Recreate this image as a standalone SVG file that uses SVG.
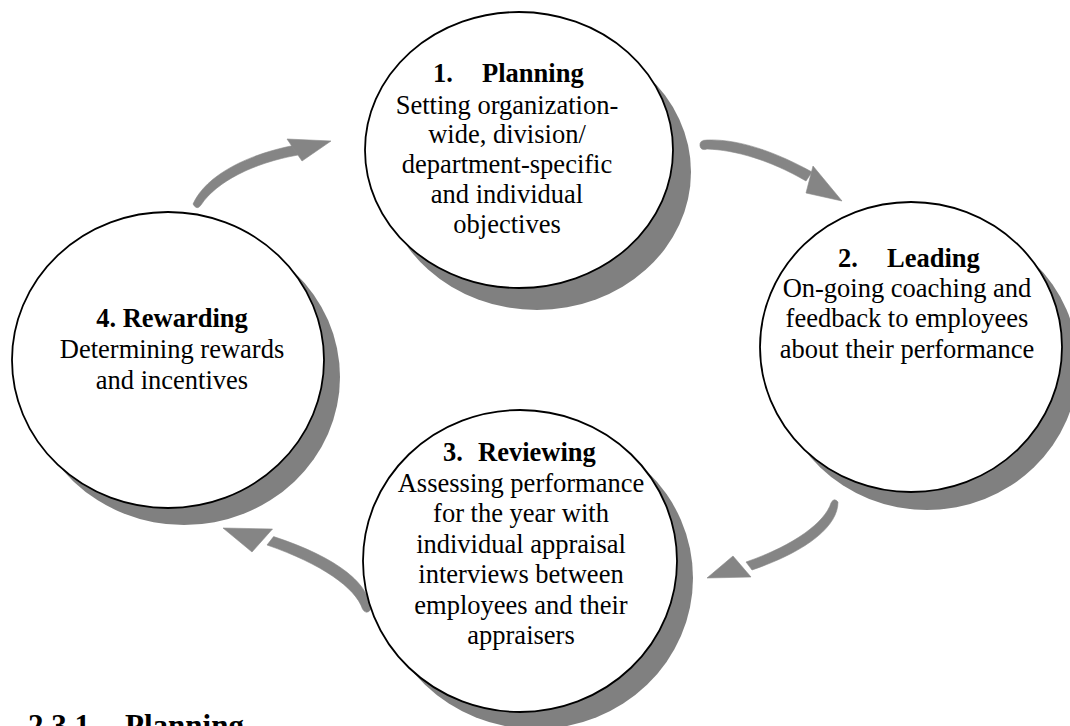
<svg xmlns="http://www.w3.org/2000/svg" width="1070" height="726" viewBox="0 0 1070 726">
<style>
.sh{fill:#808080;stroke:none}
.c{fill:#ffffff;stroke:#000000;stroke-width:1.8}
.t{font-family:"Liberation Serif","Times New Roman",serif;font-size:26.5px;fill:#000}
.m{text-anchor:middle}
.b{font-weight:bold}
.ar{fill:#858585;stroke:#8a8a8a;stroke-width:0.6}
</style>
<rect width="1070" height="726" fill="#ffffff"/>
<g id="connectors">
<g id="arrow-4-1">
<path class="ar" d="M193,204 C206,175 248,154 296,145 L298,155 C253,163 216,182 201,205 Q197,211 193,204 Z"/>
<path class="ar" d="M287,139 L331,141 L302,161 Z"/>
</g>
<g id="arrow-1-2">
<path class="ar" d="M700,146 Q699,140 707,140 C730,139 765,146 812,172 L806,181 C770,160 735,150 707,149 Q701,151 700,146 Z"/>
<path class="ar" d="M813,166 L842,201 L806,193 Z"/>
</g>
<g id="arrow-2-3">
<path class="ar" d="M831,503 Q834,497 838,502 C838,525 810,550 752,570 L746,562 C795,545 825,522 831,503 Z"/>
<path class="ar" d="M733,556 L707,578 L751,577 Z"/>
</g>
<g id="arrow-3-4">
<path class="ar" d="M362.5,609 Q366,615 370.4,610 C370.4,585 339,558 273.6,536.6 L267,545 C322,564 355.7,588 362.5,609 Z"/>
<path class="ar" d="M252,552 L223,528 L272.5,529 Z"/>
</g>
</g>
<g id="node-1">
<ellipse class="sh" cx="537" cy="172" rx="154" ry="138"/>
<ellipse class="c" cx="519" cy="150" rx="154" ry="138"/>
<text class="t b" x="433" y="82">1.</text>
<text class="t b" x="482" y="82">Planning</text>
<text class="t m" x="507" y="114">Setting organization-</text>
<text class="t m" x="507" y="143">wide, division/</text>
<text class="t m" x="507" y="173">department-specific</text>
<text class="t m" x="507" y="203">and individual</text>
<text class="t m" x="507" y="233">objectives</text>
</g>
<g id="node-2">
<ellipse class="sh" cx="927" cy="365" rx="151" ry="145"/>
<ellipse class="c" cx="911" cy="347" rx="151" ry="145"/>
<text class="t b" x="838" y="267">2.</text>
<text class="t b" x="887" y="267">Leading</text>
<text class="t m" x="907" y="297">On-going coaching and</text>
<text class="t m" x="907" y="327">feedback to employees</text>
<text class="t m" x="907" y="358">about their performance</text>
</g>
<g id="node-3">
<ellipse class="sh" cx="536" cy="578" rx="157" ry="151"/>
<ellipse class="c" cx="520" cy="561" rx="157" ry="151"/>
<text class="t b" x="443" y="461">3.</text>
<text class="t b" x="478" y="461">Reviewing</text>
<text class="t m" x="521" y="492">Assessing performance</text>
<text class="t m" x="521" y="522">for the year with</text>
<text class="t m" x="521" y="553">individual appraisal</text>
<text class="t m" x="521" y="583">interviews between</text>
<text class="t m" x="521" y="614">employees and their</text>
<text class="t m" x="521" y="644">appraisers</text>
</g>
<g id="node-4">
<ellipse class="sh" cx="184" cy="377" rx="156" ry="148"/>
<ellipse class="c" cx="168" cy="360" rx="156" ry="148"/>
<text class="t b m" x="172" y="327">4. Rewarding</text>
<text class="t m" x="172" y="358">Determining rewards</text>
<text class="t m" x="172" y="389">and incentives</text>
</g>
<g id="heading">
<text class="t b" style="font-size:31px" x="28" y="736">2.3.1</text>
<text class="t b" style="font-size:31px" x="125" y="736">Planning</text>
</g>
</svg>
